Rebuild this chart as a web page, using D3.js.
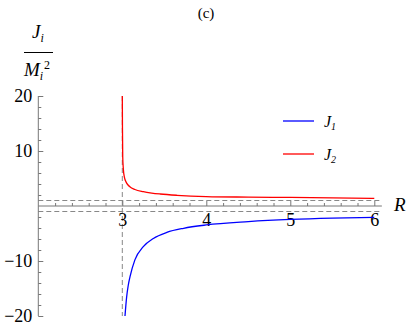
<!DOCTYPE html>
<html><head><meta charset="utf-8">
<script src="https://cdn.jsdelivr.net/npm/d3@7"></script>
<style>
body{margin:0;background:#fff;}
svg{display:block;}
</style></head>
<body><svg id="c" width="409" height="327"></svg>
<script>
// Data
const j1R   = [3.032, 3.052, 3.07, 3.092, 3.15, 3.25, 3.37, 3.53, 3.73, 4.0, 4.5, 5.0, 5.5, 6.0];
const j1Val = [-20, -16.5, -14.5, -12.85, -9.8, -7.4, -5.9, -4.8, -4.05, -3.45, -2.85, -2.45, -2.2, -2.05];
const j2R   = [3.0, 3.002, 3.005, 3.012, 3.024, 3.05, 3.09, 3.15, 3.25, 3.35, 3.45, 3.65, 4.0, 4.5, 5.0, 5.5, 6.0];
const j2Val = [20, 14, 9.0, 6.8, 5.3, 4.2, 3.5, 3.0, 2.6, 2.35, 2.18, 1.95, 1.72, 1.62, 1.55, 1.47, 1.4];
const xMajor = [3, 4, 5, 6];
const yMajor = [-20, -10, 10, 20];
const hLines = [1, -1];
const vLine = 3;
const seriesNames = ["J1", "J2"];
const seriesColors = ["#0000ff", "#ff0000"];

const serif = "Liberation Serif";
const svg = d3.select("#c").attr("font-family", serif);
const x = d3.scaleLinear().domain([2, 6]).range([38.3, 374.3]);
const y = d3.scaleLinear().domain([-20, 20]).range([316, 96]);
const xEnd = 6.09;
const axisColor = "#777";
const dash = "5,3";

const xMinor = d3.range(2.2, 6.01, 0.2).map(v => +v.toFixed(1)).filter(v => !xMajor.includes(v));
const yMinor = d3.range(-20, 20.1, 2).filter(v => !yMajor.includes(v) && v !== 0);

// dashed guides
svg.selectAll("line.h").data(hLines).enter().append("line")
  .attr("x1", x(2)).attr("x2", x(xEnd)).attr("y1", d => y(d)).attr("y2", d => y(d))
  .attr("stroke", "#888").attr("stroke-width", 1).attr("stroke-dasharray", dash);
svg.append("line").attr("x1", x(vLine)).attr("x2", x(vLine)).attr("y1", y(20)).attr("y2", y(-20))
  .attr("stroke", "#888").attr("stroke-width", 1).attr("stroke-dasharray", dash);

// axes lines
svg.append("line").attr("x1", x(2)).attr("x2", x(xEnd)).attr("y1", y(0)).attr("y2", y(0))
  .attr("stroke", axisColor).attr("stroke-width", 1);
svg.append("line").attr("x1", x(2)).attr("x2", x(2)).attr("y1", y(20)).attr("y2", y(-20))
  .attr("stroke", axisColor).attr("stroke-width", 1);

// x ticks
const gx = svg.append("g").attr("transform", `translate(0,${y(0)})`);
gx.call(d3.axisBottom(x).tickValues(xMajor).tickSize(-5).tickPadding(7).tickFormat(d3.format("d")));
gx.attr("font-family", serif);
gx.select(".domain").remove();
gx.selectAll(".tick line").attr("stroke", axisColor);
gx.selectAll("text").attr("font-size", 18).attr("fill", "#000").attr("font-family", serif);
const gx2 = svg.append("g").attr("transform", `translate(0,${y(0)})`);
gx2.call(d3.axisBottom(x).tickValues(xMinor).tickSize(-3).tickFormat(""));
gx2.select(".domain").remove();
gx2.selectAll(".tick line").attr("stroke", axisColor);

// y ticks
const gy = svg.append("g").attr("transform", `translate(${x(2)},0)`);
gy.call(d3.axisLeft(y).tickValues(yMajor).tickSize(-5).tickPadding(6).tickFormat(d3.format("d")));
gy.attr("font-family", serif);
gy.select(".domain").remove();
gy.selectAll(".tick line").attr("stroke", axisColor);
gy.selectAll("text").attr("font-size", 18).attr("fill", "#000").attr("font-family", serif);
const gy2 = svg.append("g").attr("transform", `translate(${x(2)},0)`);
gy2.call(d3.axisLeft(y).tickValues(yMinor).tickSize(-3).tickFormat(""));
gy2.select(".domain").remove();
gy2.selectAll(".tick line").attr("stroke", axisColor);

// curves
const line = d3.line().x(d => x(d[0])).y(d => y(d[1])).curve(d3.curveMonotoneX);
const s1 = j1R.map((r, i) => [r, j1Val[i]]);
const s2 = j2R.map((r, i) => [r, j2Val[i]]);
svg.append("path").attr("d", line(s1)).attr("fill", "none").attr("stroke", seriesColors[0]).attr("stroke-width", 1.3);
svg.append("path").attr("d", line(s2)).attr("fill", "none").attr("stroke", seriesColors[1]).attr("stroke-width", 1.3);

// axis labels
svg.append("text").attr("x", 394).attr("y", 211).attr("font-size", 19).attr("font-style", "italic").text("R");
const yl = svg.append("g");
const t1 = yl.append("text").attr("x", 32).attr("y", 38).attr("font-size", 19).attr("font-style", "italic");
t1.append("tspan").text("J");
t1.append("tspan").attr("font-size", 12).attr("dy", 4).text("i");
yl.append("line").attr("x1", 24).attr("x2", 53).attr("y1", 52.5).attr("y2", 52.5).attr("stroke", "#000").attr("stroke-width", 1);
const t2 = yl.append("text").attr("x", 24).attr("y", 76).attr("font-size", 19).attr("font-style", "italic");
t2.append("tspan").text("M");
t2.append("tspan").attr("font-size", 12).attr("dy", 4).text("i");
yl.append("text").attr("x", 44).attr("y", 69).attr("font-size", 12).text("2");

// title
svg.append("text").attr("x", 206).attr("y", 18).attr("text-anchor", "middle").attr("font-size", 15).text("(c)");

// legend
const legY = [121, 154];
seriesNames.forEach((n, i) => {
  svg.append("line").attr("x1", 283).attr("x2", 314).attr("y1", legY[i]).attr("y2", legY[i])
    .attr("stroke", seriesColors[i]).attr("stroke-width", 1.3);
  const t = svg.append("text").attr("x", 324).attr("y", legY[i] + 6).attr("font-size", 16).attr("font-style", "italic");
  t.append("tspan").text("J");
  t.append("tspan").attr("font-size", 10).attr("dy", 3).text(n.slice(1));
});
</script></body></html>
